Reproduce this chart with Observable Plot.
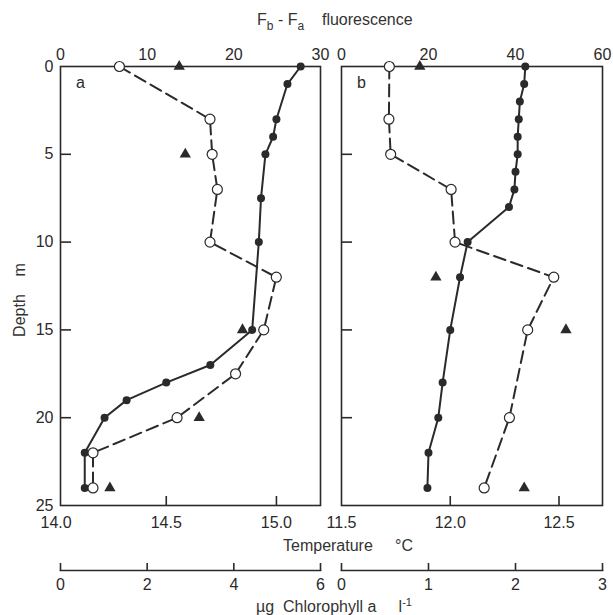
<!DOCTYPE html>
<html><head><meta charset="utf-8">
<script src="https://cdn.jsdelivr.net/npm/d3@7"></script>
<script src="https://cdn.jsdelivr.net/npm/@observablehq/plot@0.6"></script>
<style>
body{margin:0;background:#fff;}
#chart{position:relative;width:613px;height:615px;font-family:"Liberation Sans",Arial,sans-serif;color:#333;}
#chart svg{position:absolute;left:0;top:0;}
.lbl{position:absolute;font-size:16px;line-height:16px;white-space:nowrap;color:#333;}
.lbl sub{font-size:12px;vertical-align:-5px;line-height:0;}
.lbl sup{font-size:11px;vertical-align:6px;line-height:0;}
</style></head><body><div id="chart"></div>
<script>
// ---- Panel a ----
const depthTempA = [0, 1, 3, 4, 5, 7.5, 10, 15, 17, 18, 19, 20, 22, 24];
const tempA      = [15.11, 15.05, 15.00, 14.985, 14.95, 14.93, 14.92, 14.89, 14.70, 14.50, 14.32, 14.22, 14.13, 14.13];
const depthChlA  = [0, 3, 5, 7, 10, 12, 15, 17.5, 20, 22, 24];
const chlA       = [1.36, 3.45, 3.50, 3.62, 3.45, 4.98, 4.69, 4.04, 2.69, 0.75, 0.75];
const depthFluA  = [0, 5, 15, 20, 24];
const fluA       = [13.7, 14.4, 21.0, 16.0, 5.7];
// ---- Panel b ----
const depthTempB = [0, 1, 2, 3, 4, 5, 6, 7, 8, 10, 12, 15, 18, 20, 22, 24];
const tempB      = [12.345, 12.34, 12.32, 12.315, 12.31, 12.31, 12.30, 12.295, 12.27, 12.08, 12.045, 12.0, 11.965, 11.945, 11.90, 11.895];
const depthChlB  = [0, 3, 5, 7, 10, 12, 15, 20, 24];
const chlB       = [0.55, 0.545, 0.565, 1.26, 1.305, 2.44, 2.14, 1.93, 1.64];
const depthFluB  = [0, 12, 15, 24];
const fluB       = [18, 21.7, 51.6, 42];
// ---- Axis ticks ----
const depthTicks = [0, 5, 10, 15, 20, 25];
const depthInner = [5, 10, 15, 20];
const tempTicksA = [14.0, 14.5, 15.0];
const tempTicksB = [11.5, 12.0, 12.5];
const fluTicksA = [0, 10, 20, 30];
const fluTicksB = [0, 20, 40, 60];
const chlTicksA = [0, 2, 4, 6];
const chlTicksB = [0, 1, 2, 3];
const panelLabels = ["a", "b"];

const zip = (d, v) => d.map((depth, i) => ({depth, v: v[i]}));

const W = 613, H = 615, TOP = 66, BOT = 505, CHL_AXIS = 570;
const INK = "#2a2a2a";
const panels = [
  {x0: 60, x1: 320, temp: zip(depthTempA, tempA), chl: zip(depthChlA, chlA), flu: zip(depthFluA, fluA),
   tDom: [14.02, 15.2], tTicks: tempTicksA, tInner: [14.5, 15.0], cDom: [0, 6], cTicks: chlTicksA,
   fDom: [0, 30], fTicks: fluTicksA, label: panelLabels[0], depthLabels: true},
  {x0: 341, x1: 602, temp: zip(depthTempB, tempB), chl: zip(depthChlB, chlB), flu: zip(depthFluB, fluB),
   tDom: [11.5, 12.7], tTicks: tempTicksB, tInner: [12.0, 12.5], cDom: [0, 3], cTicks: chlTicksB,
   fDom: [0, 60], fTicks: fluTicksB, label: panelLabels[1], depthLabels: false}
];

const chart = document.getElementById("chart");
function layer(p, xDomain, yAxis, marks, bottomAt = BOT) {
  const svg = Plot.plot({
    width: W, height: H,
    marginLeft: p.x0, marginRight: W - p.x1, marginTop: TOP, marginBottom: H - bottomAt,
    x: {domain: xDomain, range: [p.x0, p.x1]},
    y: {domain: [0, 25], range: [TOP, BOT], axis: yAxis ? undefined : null},
    style: {background: "transparent", fontFamily: "'Liberation Sans', Arial, sans-serif", fontSize: "16px", color: INK, overflow: "visible"},
    marks
  });
  chart.append(svg);
}

for (const p of panels) {
  // temperature layer: frame, depth axis, temperature axis
  layer(p, p.tDom, true, [
    Plot.frame({stroke: INK, strokeWidth: 1.6}),
    p.depthLabels ? Plot.axisY({anchor: "left", ticks: depthTicks, tickSize: 0, tickPadding: 7, label: null}) : null,
    Plot.axisY({anchor: "right", frameAnchor: "left", ticks: depthInner, tickSize: 10, text: null, label: null, strokeWidth: 1.6}),
    Plot.axisX({anchor: "bottom", ticks: p.tTicks, tickFormat: d3.format(".1f"), tickSize: 0, tickPadding: 11, label: null}),
    Plot.axisX({anchor: "top", frameAnchor: "bottom", ticks: p.tInner, tickSize: 10, text: null, label: null, strokeWidth: 1.6}),
    Plot.text([p.label], {frameAnchor: "top-left", dx: 20, dy: 16, textAnchor: "middle", lineAnchor: "middle", fontSize: 16}),
    Plot.line(p.temp, {x: "v", y: "depth", stroke: INK, strokeWidth: 2}),
    Plot.dot(p.temp, {x: "v", y: "depth", fill: INK, r: 4})
  ]);
  // chlorophyll layer with its own axis below
  layer(p, p.cDom, false, [
    Plot.frame({anchor: "bottom", stroke: INK, strokeWidth: 1.6}),
    Plot.axisX({anchor: "top", frameAnchor: "bottom", ticks: p.cTicks, tickSize: 8, text: null, label: null, strokeWidth: 1.6}),
    Plot.axisX({anchor: "bottom", ticks: p.cTicks, tickFormat: d3.format("d"), tickSize: 0, tickPadding: 8, label: null}),
    Plot.line(p.chl, {x: "v", y: "depth", stroke: INK, strokeWidth: 2, strokeDasharray: "12,6"}),
    Plot.dot(p.chl, {x: "v", y: "depth", fill: "white", stroke: INK, strokeWidth: 1.2, r: 5})
  ], CHL_AXIS);
  // fluorescence layer with top axis
  layer(p, p.fDom, false, [
    Plot.axisX({anchor: "top", ticks: p.fTicks, tickFormat: d3.format("d"), tickSize: 0, tickPadding: 7, label: null}),
    Plot.dot(p.flu, {x: "v", y: "depth", symbol: "triangle", fill: INK, r: 4.2})
  ]);
}

function addLabel(html, left, top, extra = "") {
  const d = document.createElement("div");
  d.className = "lbl";
  d.innerHTML = html;
  d.style.left = left + "px";
  d.style.top = top + "px";
  if (extra) d.style.cssText += extra;
  chart.append(d);
}
addLabel("F<sub>b</sub> - F<sub>a</sub>&nbsp;&nbsp;&nbsp; fluorescence", 257, 12);
addLabel("Temperature&nbsp;&nbsp;&nbsp;&nbsp; °C", 283, 538);
addLabel("µg&nbsp;&nbsp;Chlorophyll a&nbsp;&nbsp;&nbsp;&nbsp; l<sup>-1</sup>", 256, 599);
addLabel("Depth&nbsp;&nbsp;&nbsp; m", 20, 300, "transform:translate(-50%,-50%) rotate(-90deg);");
</script></body></html>
